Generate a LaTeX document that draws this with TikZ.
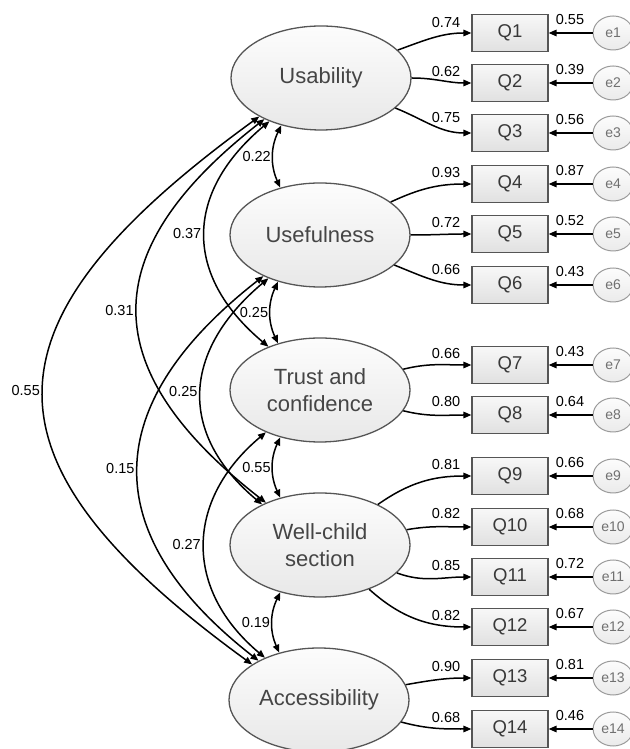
\documentclass[tikz,border=0pt]{standalone}
\usepackage{fontspec}
\setmainfont{Liberation Sans}
\usetikzlibrary{arrows.meta,positioning,shapes.geometric}
\definecolor{semline}{HTML}{555555}
\definecolor{semtext}{HTML}{454545}
\definecolor{errline}{HTML}{9A9A9A}
\definecolor{errtext}{HTML}{707070}

\begin{document}
\begin{tikzpicture}[x=1pt,y=1pt,
  latent/.style={ellipse,draw=semline,line width=1.3pt,top color=black!1,bottom color=black!9,minimum width=180pt,minimum height=104pt,inner sep=0pt,align=center,text=semtext,font=\fontsize{22}{27}\selectfont},
  item/.style={rectangle,draw=semline,line width=1.2pt,top color=black!3,bottom color=black!12,minimum width=76pt,minimum height=37pt,inner sep=0pt,text=black!78,font=\fontsize{18.5}{22}\selectfont},
  err/.style={ellipse,draw=errline,line width=1pt,top color=black!1,bottom color=black!8,minimum width=40pt,minimum height=34pt,inner sep=0pt,text=errtext,font=\fontsize{14}{16}\selectfont},
  load/.style={-{Triangle[length=8pt,width=6.5pt]},line width=1.5pt},
  cov/.style={{Triangle[length=8pt,width=6.5pt]}-{Triangle[length=8pt,width=6.5pt]},line width=1.5pt},
  coef/.style={font=\fontsize{14.5}{16}\selectfont,inner sep=1.5pt},
  lcoef/.style={coef,pos=1,above left,xshift=-9pt,yshift=4.5pt},
  ecoef/.style={coef,pos=1,above right,xshift=5pt,yshift=6pt}
]
\useasboundingbox (0,0) rectangle (629,749);

% latent factors
\node[latent] (use) at (321,671) {Usability};
\node[latent] (usef) at (320,514) {Usefulness};
\node[latent] (trust) at (320,359) {Trust and\\confidence};
\node[latent] (wc) at (320,204) {Well-child\\section};
\node[latent] (acc) at (319,49) {Accessibility};

% observed items
\node[item] (q1) at (510,716) {Q1};
\node[item] (q2) at (510,666) {Q2};
\node[item] (q3) at (510,616) {Q3};
\node[item] (q4) at (510,565) {Q4};
\node[item] (q5) at (510,515) {Q5};
\node[item] (q6) at (510,464) {Q6};
\node[item] (q7) at (510,384) {Q7};
\node[item] (q8) at (510,334) {Q8};
\node[item] (q9) at (510,273) {Q9};
\node[item] (q10) at (510,222) {Q10};
\node[item] (q11) at (510,172) {Q11};
\node[item] (q12) at (510,122) {Q12};
\node[item] (q13) at (510,71) {Q13};
\node[item] (q14) at (510,20) {Q14};

% error terms
\node[err,right=44pt of q1] (e1) {e1};
\node[err,right=44pt of q2] (e2) {e2};
\node[err,right=44pt of q3] (e3) {e3};
\node[err,right=44pt of q4] (e4) {e4};
\node[err,right=44pt of q5] (e5) {e5};
\node[err,right=44pt of q6] (e6) {e6};
\node[err,right=44pt of q7] (e7) {e7};
\node[err,right=44pt of q8] (e8) {e8};
\node[err,right=44pt of q9] (e9) {e9};
\node[err,right=44pt of q10] (e10) {e10};
\node[err,right=44pt of q11] (e11) {e11};
\node[err,right=44pt of q12] (e12) {e12};
\node[err,right=44pt of q13] (e13) {e13};
\node[err,right=44pt of q14] (e14) {e14};

% loadings
\draw[load] (use) to[out=20,in=180] node[lcoef,yshift=-1pt] {0.74} (q1);
\draw[load] (use) to[out=0,in=180] node[lcoef] {0.62} (q2);
\draw[load] (use) to[out=-22,in=180] node[lcoef,yshift=4pt] {0.75} (q3);
\draw[load] (usef) to[out=25,in=180] node[lcoef] {0.93} (q4);
\draw[load] (usef) to[out=0,in=180] node[lcoef] {0.72} (q5);
\draw[load] (usef) to[out=-22,in=180] node[lcoef,yshift=4pt] {0.66} (q6);
\draw[load] (trust) to[out=14,in=180] node[lcoef] {0.66} (q7);
\draw[load] (trust) to[out=-14,in=180] node[lcoef,yshift=2pt] {0.80} (q8);
\draw[load] (wc) to[out=35,in=180] node[lcoef] {0.81} (q9);
\draw[load] (wc) to[out=10,in=180] node[lcoef,yshift=2pt] {0.82} (q10);
\draw[load] (wc) to[out=-20,in=180] node[lcoef] {0.85} (q11);
\draw[load] (wc) to[out=-42,in=180] node[lcoef] {0.82} (q12);
\draw[load] (acc) to[out=10,in=180] node[lcoef] {0.90} (q13);
\draw[load] (acc) to[out=-15,in=180] node[lcoef] {0.68} (q14);

% residuals
\draw[load] (e1) -- node[ecoef] {0.55} (q1);
\draw[load] (e2) -- node[ecoef] {0.39} (q2);
\draw[load] (e3) -- node[ecoef] {0.56} (q3);
\draw[load] (e4) -- node[ecoef] {0.87} (q4);
\draw[load] (e5) -- node[ecoef] {0.52} (q5);
\draw[load] (e6) -- node[ecoef] {0.43} (q6);
\draw[load] (e7) -- node[ecoef] {0.43} (q7);
\draw[load] (e8) -- node[ecoef] {0.64} (q8);
\draw[load] (e9) -- node[ecoef] {0.66} (q9);
\draw[load] (e10) -- node[ecoef] {0.68} (q10);
\draw[load] (e11) -- node[ecoef] {0.72} (q11);
\draw[load] (e12) -- node[ecoef] {0.67} (q12);
\draw[load] (e13) -- node[ecoef] {0.81} (q13);
\draw[load] (e14) -- node[ecoef] {0.46} (q14);

% covariances
\draw[cov] (use.230) to[bend right=25] node[coef,midway,left] {0.22} (usef.130);
\draw[cov] (usef.228) to[bend right=25] node[coef,midway,left] {0.25} (trust.132);
\draw[cov] (trust.230) to[bend right=25] node[coef,midway,left] {0.55} (wc.130);
\draw[cov] (wc.230) to[bend right=25] node[coef,midway,left] {0.19} (acc.130);
\draw[cov] (use.220) to[out=220,in=140,looseness=1.26] node[coef,midway,left,inner sep=3pt] {0.37} (trust.140);
\draw[cov] (use.216) to[out=218,in=142,looseness=1.44] node[coef,midway,left,inner sep=3pt] {0.31} (wc.142);
\draw[cov] (use.212) to[out=216,in=144,looseness=1.63] node[coef,midway,left,inner sep=3pt] {0.55} (acc.152);
\draw[cov] (usef.220) to[out=220,in=140,looseness=1.26] node[coef,midway,left,inner sep=3pt] {0.25} (wc.145);
\draw[cov] (usef.216) to[out=218,in=142,looseness=1.38] node[coef,midway,left,inner sep=3pt] {0.15} (acc.147);
\draw[cov] (trust.218) to[out=220,in=140,looseness=1.2] node[coef,midway,left,inner sep=3pt] {0.27} (acc.142);
\end{tikzpicture}
\end{document}
